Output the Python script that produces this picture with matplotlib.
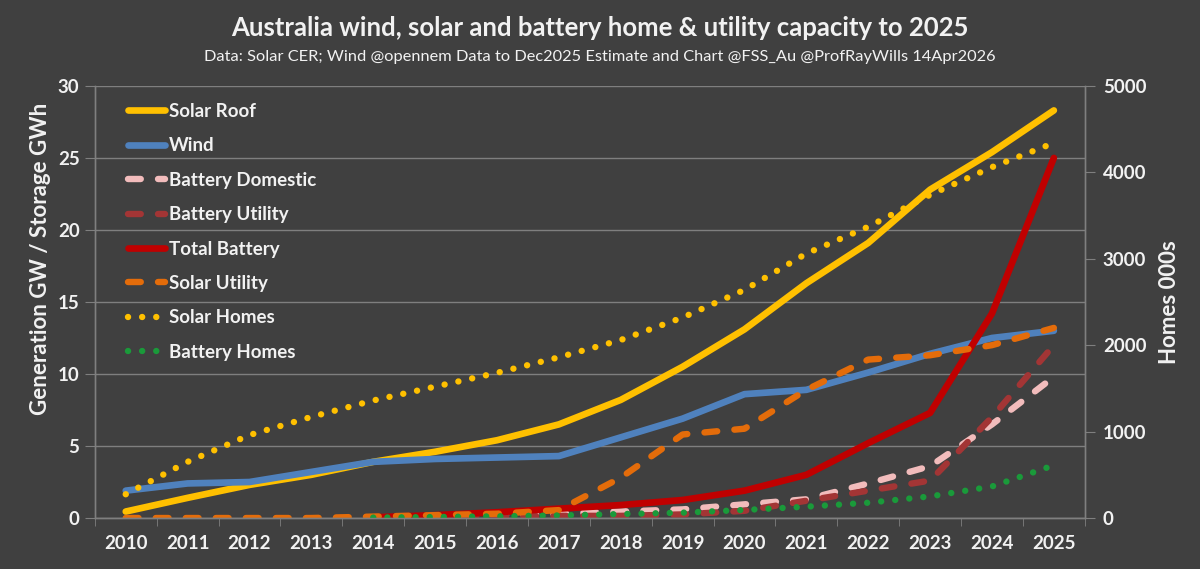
import numpy as np
import matplotlib.pyplot as plt

# data
years = [str(y) for y in range(2010, 2026)]
solar_roof = [0.45, 1.4, 2.3, 3.0, 3.9, 4.6, 5.4, 6.5, 8.2, 10.5, 13.1, 16.3, 19.1, 22.8, 25.4, 28.3]
wind = [1.9, 2.4, 2.5, 3.2, 3.9, 4.1, 4.2, 4.3, 5.6, 6.9, 8.6, 8.9, 10.1, 11.4, 12.5, 13.0]
battery_domestic = [None, None, None, None, 0.05, 0.1, 0.2, 0.3, 0.45, 0.6, 0.95, 1.3, 2.4, 3.6, 6.5, 9.8]
battery_utility = [None, None, None, None, 0.0, 0.05, 0.1, 0.15, 0.15, 0.25, 0.5, 1.2, 1.9, 2.6, 7.0, 12.0]
total_battery = [None, None, None, None, 0.05, 0.2, 0.4, 0.65, 0.9, 1.25, 1.9, 3.0, 5.2, 7.3, 14.2, 25.0]
solar_utility = [0, 0, 0, 0, 0.1, 0.2, 0.3, 0.55, 2.8, 5.8, 6.2, 8.9, 11.0, 11.3, 12.0, 13.2]
solar_homes = [275, 650, 960, 1170, 1360, 1520, 1680, 1860, 2060, 2320, 2640, 3060, 3370, 3740, 4060, 4340]
battery_homes = [None, None, None, None, 5, 12, 20, 30, 46, 62, 93, 131, 177, 250, 365, 610]

def arr(v):
    return np.array([np.nan if a is None else a for a in v], dtype=float)

bg = "#404040"
fg = "#F2F2F2"
grid = "#7F7F7F"
plt.rcParams['font.family'] = ['Lato', 'DejaVu Sans']

x = np.arange(len(years))
dash = (0, (2.0, 2.7))
dots = (0, (0.01, 2.2))

fig = plt.figure(figsize=(12, 5.69), dpi=100, facecolor=bg)
ax = fig.add_axes([0.079, 0.0896, 0.825, 0.7594])
ax.set_facecolor(bg)
ax2 = ax.twinx()
ax2.patch.set_visible(False)

ax.plot(x, solar_roof, color="#FFC000", lw=4.8, solid_capstyle="round", label="Solar Roof")
ax.plot(x, wind, color="#4F81BD", lw=4.8, solid_capstyle="round", label="Wind")
ax.plot(x, arr(battery_domestic), color="#F2BCBC", lw=4.6, ls=dash, dash_capstyle="round", label="Battery Domestic")
ax.plot(x, arr(battery_utility), color="#A33535", lw=4.6, ls=dash, dash_capstyle="round", label="Battery Utility")
ax.plot(x, arr(total_battery), color="#C00000", lw=4.8, solid_capstyle="round", label="Total Battery")
ax.plot(x, solar_utility, color="#E46C0A", lw=4.6, ls=dash, dash_capstyle="round", label="Solar Utility")
ax2.plot(x, solar_homes, color="#FFC000", lw=4.6, ls=dots, dash_capstyle="round", label="Solar Homes")
ax2.plot(x, arr(battery_homes), color="#1A9A3A", lw=4.6, ls=dots, dash_capstyle="round", label="Battery Homes")

ax.set_xlim(-0.5, len(years) - 0.5)
ax.set_ylim(0, 30)
ax2.set_ylim(0, 5000)
ax.set_yticks(range(0, 31, 5))
ax2.set_yticks(range(0, 5001, 1000))
ax.set_xticks(x)
ax.set_xticklabels(years)
ax.set_xticks(np.arange(-0.5, len(years) + 0.5, 1), minor=True)
ax.tick_params(axis="x", which="major", length=0, pad=12, labelsize=13.5, colors=fg)
ax.tick_params(axis="x", which="minor", length=6, color=grid, direction="out")
ax.tick_params(axis="y", length=7, color=grid, labelsize=13.5, labelcolor=fg, pad=4)
ax2.tick_params(axis="y", length=7, color=grid, labelsize=13.5, labelcolor=fg, pad=6)
for lab in ax.get_xticklabels() + ax.get_yticklabels() + ax2.get_yticklabels():
    lab.set_fontweight("bold")

ax.yaxis.grid(True, color=grid, lw=1)
ax.set_axisbelow(True)
for a in (ax, ax2):
    a.spines["top"].set_visible(False)
    for s in ("left", "right", "bottom"):
        a.spines[s].set_color(grid)
        a.spines[s].set_linewidth(1)

ax.set_ylabel("Generation GW / Storage GWh", color=fg, fontsize=16, fontweight="bold", labelpad=5, y=0.6)
ax2.set_ylabel("Homes 000s", color=fg, fontsize=16, fontweight="bold", labelpad=9)

fig.text(0.5, 0.95, "Australia wind, solar and battery home & utility capacity to 2025",
         ha="center", va="center", color=fg, fontsize=18.5, fontweight="bold")
fig.text(0.5, 0.9, "Data: Solar CER; Wind @opennem Data to Dec2025 Estimate and Chart @FSS_Au @ProfRayWills 14Apr2026",
         ha="center", va="center", color=fg, fontsize=11.8)

handles = ax.get_lines() + ax2.get_lines()
leg = ax2.legend(handles=handles, loc="upper left", bbox_to_anchor=(0.016, 1.0), frameon=False,
                 handlelength=2.0, handletextpad=0.2, labelspacing=0.93, fontsize=13.5)
for t in leg.get_texts():
    t.set_color(fg)
    t.set_fontweight("bold")

fig.savefig("out.png", dpi=100, facecolor=bg)
